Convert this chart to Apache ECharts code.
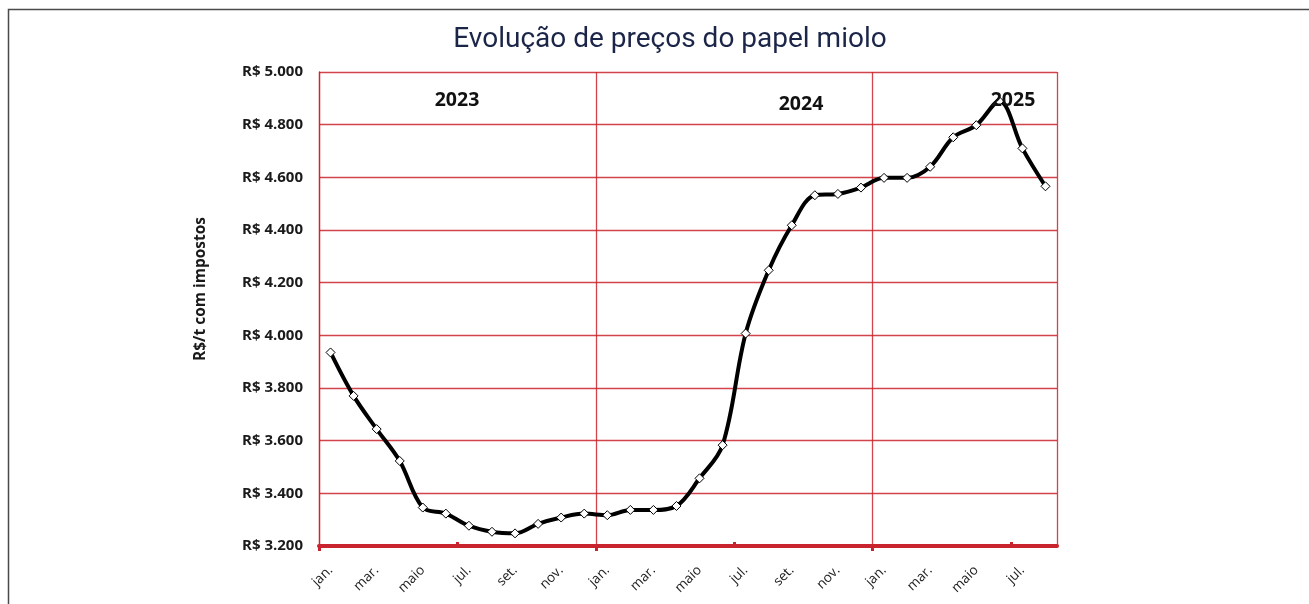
<!DOCTYPE html>
<html>
<head>
<meta charset="utf-8">
<script src="https://cdn.jsdelivr.net/npm/echarts@6/dist/echarts.min.js"></script>
<style>
html,body{margin:0;padding:0;background:#fff;}
#c{width:1309px;height:604px;}
</style>
</head>
<body>
<div id="c"></div>
<script>
const months = ["jan.","fev.","mar.","abr.","maio","jun.","jul.","ago.","set.","out.","nov.","dez."];
const years = ["2023","2024","2025"];
const prices2023 = [3935, 3770, 3644, 3523, 3346, 3323, 3277, 3254, 3248, 3284, 3308, 3323];
const prices2024 = [3317, 3337, 3337, 3352, 3457, 3583, 4007, 4247, 4418, 4532, 4537, 4561];
const prices2025 = [4598, 4598, 4640, 4752, 4798, 4889, 4710, 4566];
const yTicks = [3200, 3400, 3600, 3800, 4000, 4200, 4400, 4600, 4800, 5000];

const categories = [];
const values = [];
[prices2023, prices2024, prices2025].forEach(function (arr, yi) {
  arr.forEach(function (v, mi) {
    categories.push(months[mi] + " " + years[yi]);
    values.push(v);
  });
});
// month boundaries (one more than the number of months), used only for tick marks
const boundaries = [];
for (let i = 0; i <= categories.length; i++) boundaries.push(String(i));

const red = '#C9232D';
const chart = echarts.init(document.getElementById('c'));
chart.setOption({
  animation: false,
  backgroundColor: '#fff',
  title: {
    text: 'Evolução de preços do papel miolo',
    left: 665,
    textAlign: 'center',
    top: 21,
    textStyle: { fontFamily: 'Roboto', fontWeight: 'normal', fontSize: 28, color: '#1B2548' }
  },
  grid: { left: 319, right: 252, top: 72, bottom: 58, containLabel: false },
  xAxis: [{
    type: 'category',
    data: categories,
    boundaryGap: true,
    axisLine: { show: true, lineStyle: { color: red, width: 4 } },
    axisTick: { show: false },
    axisLabel: {
      interval: function (i) { return i % 2 === 0; },
      formatter: function (v) { return v.split(' ')[0]; },
      rotate: 45,
      margin: 22,
      fontFamily: 'Open Sans',
      fontSize: 13.5,
      color: '#222',
      hideOverlap: false
    },
    splitLine: { show: true, interval: function (i) { return i % 12 === 0; }, lineStyle: { color: red, width: 1.3, opacity: 0.85 } }
  }, {
    type: 'category',
    data: boundaries,
    boundaryGap: false,
    position: 'bottom',
    axisLine: { show: false },
    axisTick: { show: true, interval: function (i) { return i % 12 === 0; }, length: 5, lineStyle: { color: red, width: 3 } },
    axisLabel: { show: false },
    splitLine: { show: false }
  }, {
    type: 'category',
    data: boundaries,
    boundaryGap: false,
    position: 'bottom',
    axisLine: { show: false },
    axisTick: { show: true, inside: true, interval: function (i) { return i % 12 === 6; }, length: 4, lineStyle: { color: red, width: 3 } },
    axisLabel: { show: false },
    splitLine: { show: false }
  }],
  yAxis: {
    type: 'value',
    min: yTicks[0],
    max: yTicks[yTicks.length - 1],
    interval: 200,
    axisLine: { show: true, lineStyle: { color: red, width: 1.3, opacity: 0.85 } },
    axisTick: { show: false },
    axisLabel: {
      margin: 16,
      fontFamily: 'Open Sans',
      fontWeight: 'bold',
      fontSize: 15,
      color: '#1a1a1a',
      formatter: function (v) { return 'R$ ' + String(v).replace(/\B(?=(\d{3})+(?!\d))/g, '.'); }
    },
    splitLine: { show: true, lineStyle: { color: red, width: 1.3, opacity: 0.85 } }
  },
  graphic: [
    { type: 'rect', silent: true, shape: { x: 8.5, y: 9.5, width: 1400, height: 700 }, style: { fill: 'none', stroke: '#4a4a4a', lineWidth: 1.5 } },
    { type: 'text', x: 201, y: 289, rotation: Math.PI / 2, style: { text: 'R$/t com impostos', fontFamily: 'Open Sans', fontWeight: 'bold', fontSize: 15.5, fill: '#1a1a1a', textAlign: 'center', textVerticalAlign: 'middle' } },
    { type: 'text', x: 457, y: 100, style: { text: years[0], fontFamily: 'Open Sans', fontWeight: 'bold', fontSize: 19.5, fill: '#111', textAlign: 'center', textVerticalAlign: 'middle' } },
    { type: 'text', x: 801, y: 104, style: { text: years[1], fontFamily: 'Open Sans', fontWeight: 'bold', fontSize: 19.5, fill: '#111', textAlign: 'center', textVerticalAlign: 'middle' } },
    { type: 'text', x: 1013, y: 100, z: 100, style: { text: years[2], fontFamily: 'Open Sans', fontWeight: 'bold', fontSize: 19.5, fill: '#111', textAlign: 'center', textVerticalAlign: 'middle' } }
  ],
  series: [{
    type: 'line',
    data: values,
    smooth: 0.35,
    symbol: 'diamond',
    symbolSize: 9,
    showAllSymbol: true,
    lineStyle: { color: '#000', width: 4 },
    itemStyle: { color: '#fff', borderColor: '#000', borderWidth: 1 },
    z: 5
  }]
});
</script>
</body>
</html>
